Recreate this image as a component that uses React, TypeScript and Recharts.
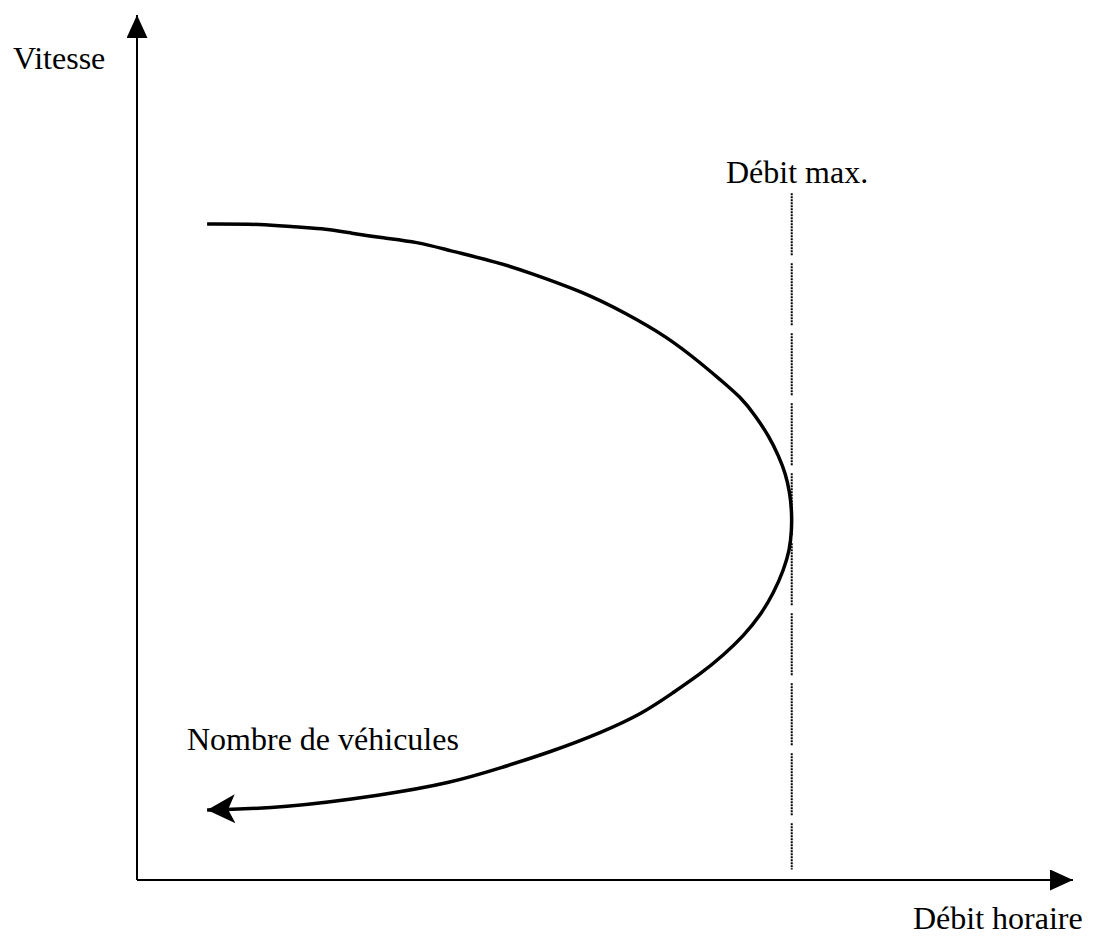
import React from 'react';
import { LineChart, Line, XAxis, YAxis, ReferenceLine } from 'recharts';

// Courbe débit-vitesse (unités arbitraires 0-100)
const flowValues = [
  7.49, 13.48, 16.68, 20.32, 22.78, 26.31, 29.95, 33.16, 38.82, 41.71, 47.7, 52.19,
  56.68, 60.21, 62.35, 64.49, 66.1, 67.49, 68.56, 69.3, 69.73, 69.95, 69.95, 69.73,
  69.09, 68.02, 66.63, 64.81, 62.67, 60.21, 57.22, 54.12, 49.52, 44.17, 38.82, 33.48,
  26.31, 15.61, 7.49,
];
const speedValues = [
  75.84, 75.84, 75.49, 75.26, 74.8, 74.22, 73.76, 72.83, 71.33, 70.29, 67.98, 65.55,
  62.77, 59.77, 57.8, 55.84, 53.64, 51.33, 49.02, 46.94, 44.86, 42.77, 40.46, 38.15,
  35.84, 33.18, 30.64, 28.21, 26.01, 23.82, 21.62, 19.31, 16.99, 14.8, 12.95, 11.21,
  9.83, 8.32, 8.09,
];
const maxFlow = 69.95;
const maxFlowLineRange = [79.4, 1.2];
const labels = {
  yAxis: 'Vitesse',
  xAxis: 'Débit horaire',
  maxFlow: 'Débit max.',
  curve: 'Nombre de véhicules',
};

const curveData = flowValues.map((x, i) => ({ x, y: speedValues[i] }));

const FONT = "'Liberation Serif', 'Times New Roman', serif";
const dotted = '2 1 '.repeat(20) + '2 8';

export default function App() {
  return (
    <div style={{ position: 'absolute', left: 0, top: 0, width: 1098, height: 938, background: '#fff' }}>
      <svg width={0} height={0} style={{ position: 'absolute' }}>
        <defs>
          <marker id="axisArrow" markerUnits="userSpaceOnUse" markerWidth="24" markerHeight="22"
            refX="23" refY="10.5" orient="auto-start-reverse" viewBox="0 0 24 22">
            <path d="M0,0 L23,10.5 L0,21 Z" fill="#000" />
          </marker>
          <marker id="curveArrow" markerUnits="userSpaceOnUse" markerWidth="32" markerHeight="32"
            refX="30" refY="14" orient="auto" viewBox="0 0 32 32">
            <path d="M30,14 L2,0 L9,14 L2,29 Z" fill="#000" />
          </marker>
        </defs>
      </svg>
      <LineChart width={1098} height={938} margin={{ top: 15, right: 25, bottom: 57, left: 136 }}>
        <XAxis
          type="number"
          dataKey="x"
          domain={[0, 100]}
          height={1}
          tick={false}
          tickLine={false}
          axisLine={{ stroke: '#000', strokeWidth: 2, markerEnd: 'url(#axisArrow)' }}
        />
        <YAxis
          type="number"
          dataKey="y"
          domain={[0, 100]}
          width={1}
          tick={false}
          tickLine={false}
          axisLine={{ stroke: '#000', strokeWidth: 2, markerStart: 'url(#axisArrow)' }}
        />
        <ReferenceLine
          segment={[
            { x: maxFlow, y: maxFlowLineRange[0] },
            { x: maxFlow, y: maxFlowLineRange[1] },
          ]}
          stroke="#000"
          strokeWidth={2}
          strokeDasharray={dotted}
          ifOverflow="extendDomain"
        />
        <Line
          data={curveData}
          dataKey="y"
          type="basis"
          stroke="#000"
          strokeWidth={3.5}
          dot={false}
          activeDot={false}
          isAnimationActive={false}
          markerEnd="url(#curveArrow)"
        />
      </LineChart>
      <svg width={1098} height={938} style={{ position: 'absolute', left: 0, top: 0, pointerEvents: 'none' }}>
        <g fontFamily={FONT} fontSize={32} fill="#000">
          <text x={13} y={69}>{labels.yAxis}</text>
          <text x={726} y={183}>{labels.maxFlow}</text>
          <text x={187} y={750}>{labels.curve}</text>
          <text x={913} y={929}>{labels.xAxis}</text>
        </g>
      </svg>
    </div>
  );
}
